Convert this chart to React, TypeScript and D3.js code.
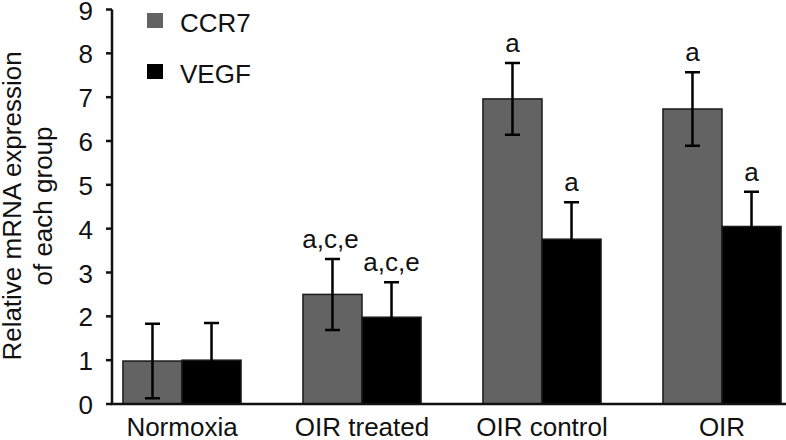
import React from "react";
import * as d3 from "d3";

const categories = ["Normoxia", "OIR treated", "OIR control", "OIR"];
const seriesNames = ["CCR7", "VEGF"];
const ccr7Values = [0.98, 2.5, 6.96, 6.73];
const ccr7Errors = [0.85, 0.81, 0.82, 0.84];
const vegfValues = [1.0, 1.98, 3.76, 4.05];
const vegfErrors = [0.85, 0.8, 0.84, 0.79];
const ccr7Labels = ["", "a,c,e", "a", "a"];
const vegfLabels = ["", "a,c,e", "a", "a"];
const yTicks = [0, 1, 2, 3, 4, 5, 6, 7, 8, 9];

const W = 786;
const H = 440;
const FONT = "'Liberation Sans', Arial, Helvetica, sans-serif";
const colors: Record<string, string> = { CCR7: "#636363", VEGF: "#000000" };

export default function App() {
  const y = d3.scaleLinear().domain([0, 9]).range([404, 9.5]);
  const x = d3
    .scaleBand<string>()
    .domain(categories)
    .range([92, 812])
    .paddingInner(0.344)
    .paddingOuter(0.172);
  const xs = d3.scaleBand<string>().domain(seriesNames).range([0, x.bandwidth()]);
  const axisX = 112;

  const series = [
    { name: "CCR7", values: ccr7Values, errors: ccr7Errors, labels: ccr7Labels },
    { name: "VEGF", values: vegfValues, errors: vegfErrors, labels: vegfLabels },
  ];
  const cap = 7.5;

  return (
    <svg
      width={W}
      height={H}
      style={{ position: "absolute", left: 0, top: 0, background: "#fff" }}
      fontFamily={FONT}
    >
      <rect x={0} y={0} width={W} height={H} fill="#fff" />
      {series.map((s) =>
        categories.map((c, i) => {
          const bx = (x(c) as number) + (xs(s.name) as number);
          const bw = xs.bandwidth();
          const cx = bx + bw / 2;
          const v = s.values[i];
          const e = s.errors[i];
          const top = y(v + e);
          const bot = y(v - e);
          return (
            <g key={s.name + c}>
              <rect
                x={bx}
                y={y(v)}
                width={bw}
                height={y(0) - y(v)}
                fill={colors[s.name]}
                stroke="#1a1a1a"
                strokeWidth={1.5}
              />
              <path
                d={`M${cx},${top}V${bot}M${cx - cap},${top}H${cx + cap}M${cx - cap},${bot}H${cx + cap}`}
                stroke="#000"
                strokeWidth={2.5}
                fill="none"
              />
              {s.labels[i] && (
                <text
                  x={cx - (s.labels[i].length > 1 && s.name === "CCR7" ? 2 : 0)}
                  y={top - 11}
                  textAnchor="middle"
                  fontSize={26}
                  fill="#111"
                >
                  {s.labels[i]}
                </text>
              )}
            </g>
          );
        })
      )}
      {/* axes */}
      <line x1={axisX} x2={axisX} y1={y(9)} y2={y(0)} stroke="#111" strokeWidth={2.5} />
      <line x1={axisX - 1} x2={W} y1={y(0)} y2={y(0)} stroke="#111" strokeWidth={2.5} />
      {yTicks.map((t) => (
        <g key={t}>
          <line x1={axisX - 6} x2={axisX} y1={y(t)} y2={y(t)} stroke="#111" strokeWidth={2.5} />
          <text x={93} y={y(t) + 10} textAnchor="end" fontSize={26} fill="#111">
            {t}
          </text>
        </g>
      ))}
      {categories.map((c) => (
        <text
          key={c}
          x={(x(c) as number) + x.bandwidth() / 2}
          y={436}
          textAnchor="middle"
          fontSize={26}
          fill="#111"
        >
          {c}
        </text>
      ))}
      {/* y axis title */}
      <g transform="translate(21,206) rotate(-90)">
        <text x={0} y={0} textAnchor="middle" fontSize={26} fill="#111">
          Relative mRNA expression
        </text>
        <text x={0} y={31} textAnchor="middle" fontSize={26} fill="#111">
          of each group
        </text>
      </g>
      {/* legend */}
      {seriesNames.map((n, i) => (
        <g key={n} transform={`translate(147,${13 + i * 51})`}>
          <rect x={0} y={0} width={16} height={15} fill={colors[n]} />
          <text x={33} y={18.5} fontSize={26} fill="#111">
            {n}
          </text>
        </g>
      ))}
    </svg>
  );
}
